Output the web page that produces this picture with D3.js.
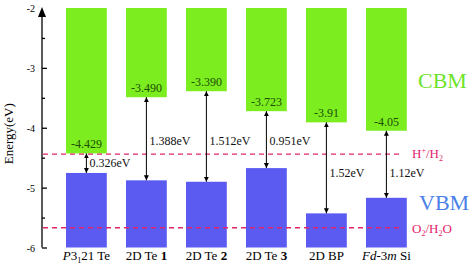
<!DOCTYPE html>
<html>
<head>
<meta charset="utf-8">
<script src="https://cdn.jsdelivr.net/npm/d3@7"></script>
<style>
  body { margin: 0; background: #fff; }
  text { font-family: "Liberation Serif", "Times New Roman", serif; }
</style>
</head>
<body>
<div id="chart"></div>
<script>
const materials = ["P3121 Te", "2D Te 1", "2D Te 2", "2D Te 3", "2D BP", "Fd-3m Si"];
const cbmValues = [-4.429, -3.490, -3.390, -3.723, -3.91, -4.05];
const cbmLabels = ["-4.429", "-3.490", "-3.390", "-3.723", "-3.91", "-4.05"];
const gapValues = [0.326, 1.388, 1.512, 0.951, 1.52, 1.12];
const gapLabels = ["0.326eV", "1.388eV", "1.512eV", "0.951eV", "1.52eV", "1.12eV"];
const yTicks = [-2, -3, -4, -5, -6];
const redoxLevels = [-4.44, -5.67];

const GREEN = "#7ced1f";
const BLUE = "#5b5bf2";
const RED = "#e2246a";

const width = 474, height = 267;
const margin = { top: 8, bottom: 19, left: 42 };

const svg = d3.select("#chart").append("svg")
    .attr("width", width)
    .attr("height", height);

const x = d3.scaleBand()
    .domain(materials)
    .range([56.4, 416.4])
    .paddingInner(0.32)
    .paddingOuter(0.16);

const y = d3.scaleLinear()
    .domain([-6, -2])
    .range([height - margin.bottom - 0.5, margin.top]);

const data = materials.map((m, i) => ({
    name: m,
    cbm: cbmValues[i],
    vbm: +(cbmValues[i] - gapValues[i]).toFixed(3),
    cbmLabel: cbmLabels[i],
    gapLabel: gapLabels[i]
}));

// CBM bars hang from the top of the axis
svg.append("g").selectAll("rect")
    .data(data)
    .join("rect")
    .attr("x", d => x(d.name))
    .attr("width", x.bandwidth())
    .attr("y", y(-2))
    .attr("height", d => y(d.cbm) - y(-2))
    .attr("fill", GREEN);

// VBM bars sit on -6
svg.append("g").selectAll("rect")
    .data(data)
    .join("rect")
    .attr("x", d => x(d.name))
    .attr("width", x.bandwidth())
    .attr("y", d => y(d.vbm))
    .attr("height", d => y(-6) - y(d.vbm))
    .attr("fill", BLUE);

// CBM value labels
svg.append("g").selectAll("text")
    .data(data)
    .join("text")
    .attr("x", d => x(d.name) + x.bandwidth() / 2)
    .attr("y", d => y(d.cbm) - 5)
    .attr("text-anchor", "middle")
    .attr("font-size", 12)
    .attr("fill", "#1d4d05")
    .text(d => d.cbmLabel);

// redox dashed lines
svg.append("g").selectAll("line")
    .data(redoxLevels)
    .join("line")
    .attr("x1", margin.left + 1)
    .attr("x2", 400)
    .attr("y1", d => y(d))
    .attr("y2", d => y(d))
    .attr("stroke", RED)
    .attr("stroke-width", 1.4)
    .attr("stroke-dasharray", "5,4");

// gap arrows
const defs = svg.append("defs");
defs.append("marker")
    .attr("id", "head")
    .attr("viewBox", "0 0 10 10")
    .attr("refX", 10)
    .attr("refY", 5)
    .attr("markerWidth", 5)
    .attr("markerHeight", 7)
    .attr("markerUnits", "userSpaceOnUse")
    .attr("orient", "auto-start-reverse")
    .append("path")
    .attr("d", "M0,0 L10,5 L0,10 Z")
    .attr("fill", "#000");

const arrowX = d => x(d.name) + x.bandwidth() / 2;

svg.append("g").selectAll("line")
    .data(data)
    .join("line")
    .attr("x1", arrowX)
    .attr("x2", arrowX)
    .attr("y1", d => y(d.cbm))
    .attr("y2", d => y(d.vbm))
    .attr("stroke", "#000")
    .attr("stroke-width", 1)
    .attr("marker-start", "url(#head)")
    .attr("marker-end", "url(#head)");

svg.append("g").selectAll("text")
    .data(data)
    .join("text")
    .attr("x", d => arrowX(d) + 3)
    .attr("y", (d, i) => i == 0 ? 167 : (i < 4 ? 145 : 177))
    .attr("font-size", 12)
    .attr("fill", "#111")
    .text(d => d.gapLabel);

// y axis
const yAxis = d3.axisRight(y)
    .tickValues(d3.range(-6, -2.01, 0.5))
    .tickSize(5)
    .tickSizeOuter(0)
    .tickFormat("");

const yg = svg.append("g")
    .attr("transform", "translate(" + margin.left + ",0)")
    .call(yAxis);
yg.select(".domain").remove();
yg.selectAll(".tick line")
    .attr("stroke", "#000")
    .attr("stroke-width", 1.3)
    .attr("x2", d => Number.isInteger(d) ? 5 : 3);

svg.append("line")
    .attr("x1", margin.left)
    .attr("x2", margin.left)
    .attr("y1", y(-6))
    .attr("y2", y(-2) + 2)
    .attr("stroke", "#000")
    .attr("stroke-width", 1.3);
svg.append("path")
    .attr("d", d3.line()([[margin.left - 4, y(-2) + 9], [margin.left, y(-2) - 1], [margin.left + 4, y(-2) + 9]]) + "Z")
    .attr("fill", "#000");

svg.append("g").selectAll("text")
    .data(yTicks)
    .join("text")
    .attr("x", margin.left - 7)
    .attr("y", d => y(d) + 4)
    .attr("text-anchor", "end")
    .attr("font-family", "Arial, sans-serif")
    .attr("font-size", 10)
    .text(d => d);

svg.append("text")
    .attr("transform", "translate(13," + y(-4.1) + ") rotate(-90)")
    .attr("text-anchor", "middle")
    .attr("font-size", 13)
    .text("Energy(eV)");

// x labels with rich formatting
const xl = svg.append("g").selectAll("text")
    .data(data)
    .join("text")
    .attr("x", d => x(d.name) + x.bandwidth() / 2)
    .attr("y", 260)
    .attr("text-anchor", "middle")
    .attr("font-size", 13);

xl.each(function (d, i) {
    const t = d3.select(this);
    if (i == 0) {
        t.append("tspan").attr("font-style", "italic").text("P");
        t.append("tspan").text("3");
        t.append("tspan").attr("font-size", 8).attr("dy", 3).text("1");
        t.append("tspan").attr("dy", -3).text("21 Te");
    } else if (i >= 1 && i <= 3) {
        t.append("tspan").text("2D Te ");
        t.append("tspan").attr("font-weight", "bold").text(String(i));
    } else if (i == 4) {
        t.text("2D BP");
    } else {
        t.append("tspan").attr("font-style", "italic").text("Fd");
        t.append("tspan").text("-3");
        t.append("tspan").attr("font-style", "italic").text("m");
        t.append("tspan").text(" Si");
    }
});

// band labels on right
svg.append("text")
    .attr("x", 418)
    .attr("y", 88)
    .attr("font-size", 22)
    .attr("fill", "#6ee22b")
    .text("CBM");

svg.append("text")
    .attr("x", 419)
    .attr("y", 210)
    .attr("font-size", 22)
    .attr("fill", "#4a7fe8")
    .text("VBM");

const h = svg.append("text")
    .attr("x", 412)
    .attr("y", 158)
    .attr("font-size", 13)
    .attr("fill", RED);
h.append("tspan").text("H");
h.append("tspan").attr("font-size", 8).attr("dy", -5).text("+");
h.append("tspan").attr("dy", 5).text("/H");
h.append("tspan").attr("font-size", 8).attr("dy", 3).text("2");

const o = svg.append("text")
    .attr("x", 412)
    .attr("y", 233)
    .attr("font-size", 13)
    .attr("fill", RED);
o.append("tspan").text("O");
o.append("tspan").attr("font-size", 8).attr("dy", 3).text("2");
o.append("tspan").attr("dy", -3).text("/H");
o.append("tspan").attr("font-size", 8).attr("dy", 3).text("2");
o.append("tspan").attr("dy", -3).text("O");
</script>
</body>
</html>
